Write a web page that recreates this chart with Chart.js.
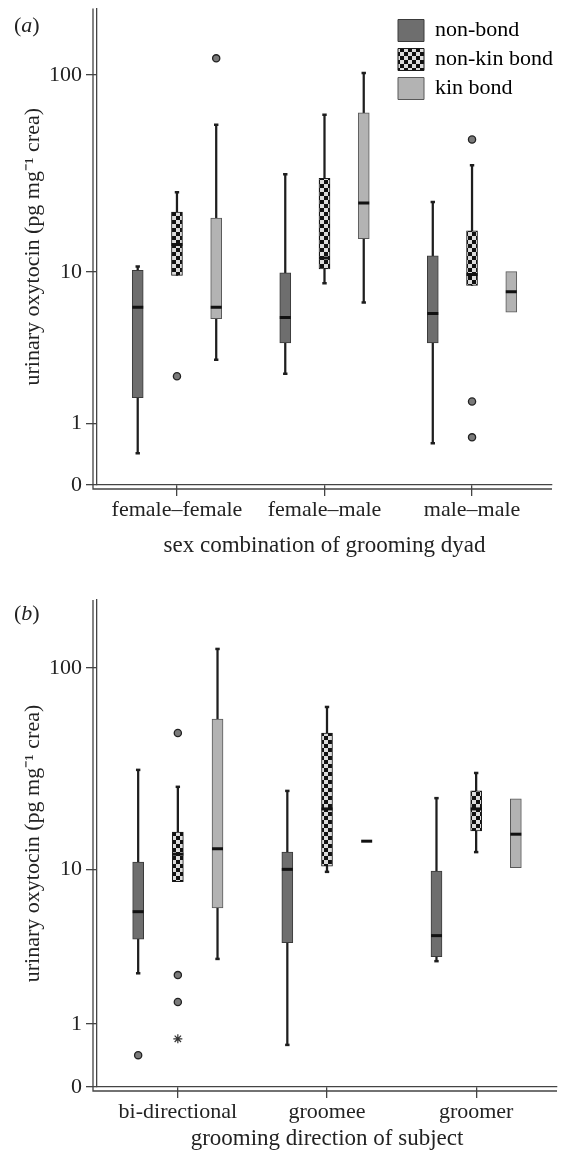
<!DOCTYPE html>
<html>
<head>
<meta charset="utf-8">
<script src="https://cdn.jsdelivr.net/npm/chart.js@4.4.1/dist/chart.umd.min.js"></script>
<style>
  body { margin: 0; background: #fff; }
  .panel { position: absolute; left: 0; width: 569px; }
  .tag { position: absolute; left: 14px; font: 22px "Liberation Serif", "Times New Roman", serif; color: #222; line-height: 1; }
</style>
</head>
<body>
<div class="panel" style="top:0;height:580px"><canvas id="chartA"></canvas><span class="tag" style="top:14px">(<i>a</i>)</span></div>
<div class="panel" style="top:580px;height:578px"><canvas id="chartB"></canvas><span class="tag" style="top:22px">(<i>b</i>)</span></div>
<script>
// categories and tick labels
const catsA = ['female–female', 'female–male', 'male–male'];
const catsB = ['bi-directional', 'groomee', 'groomer'];
const seriesNames = ['non-bond', 'non-kin bond', 'kin bond'];
const yTicks = [0, 1, 10, 100];

// box summaries per category: [lower whisker, q1, median, q3, upper whisker]
const aNonBond = [[0.43, 1.67, 6.4, 10.2, 10.7], [2.5, 3.95, 5.6, 9.9, 32.1], [0.6, 3.95, 5.9, 12.2, 23.2]];
const aNonKin = [[9.6, 9.6, 14, 20.6, 26], [8.7, 10.4, 11.9, 30.6, 63.7], [8.45, 8.45, 9.7, 16.5, 35.6]];
const aKin = [[3.1, 5.5, 6.4, 19.2, 56.8], [6.8, 15.0, 22.9, 65.1, 102.5], [6.0, 6.0, 7.8, 10.06, 10.06]];
// outliers: [category index, value]
const aNonBondOut = [];
const aNonKinOut = [[0, 2.4], [2, 47.9], [2, 1.56], [2, 0.71]];
const aKinOut = [[0, 121]];

const bNonBond = [[2.5, 4.1, 5.9, 10.9, 31.9], [0.59, 3.9, 10.0, 12.3, 25.1], [3.0, 3.2, 4.3, 9.8, 23.1]];
const bNonKin = [[8.6, 8.6, 12, 15.6, 26.3], [9.7, 10.4, 20.4, 48.4, 64.8], [12.3, 15.8, 20.4, 25.1, 30.8]];
const bKin = [[3.1, 6.2, 12.8, 56.6, 123.7], [14, 14, 14, 14, 14], [10.2, 10.2, 15.2, 22.9, 22.9]];
const bNonBondOut = [[0, 0.42]];
const bNonKinOut = [[0, 48.4], [0, 2.43], [0, 1.55]];
const bKinOut = [];
const bExtremes = [[0, 0.70]]; // the asterisk, non-kin bond

// axis is log10(value + 1)
const tf = v => Math.log10(v + 1);
const offsets = [-0.266, 0, 0.266];

function checker() {
  const c = document.createElement('canvas');
  c.width = 8; c.height = 8;
  const g = c.getContext('2d');
  g.fillStyle = '#dcdcdc'; g.fillRect(0, 0, 8, 8);
  g.fillStyle = '#111';
  g.fillRect(0, 0, 4, 4); g.fillRect(4, 4, 4, 4);
  return g.createPattern(c, 'repeat');
}
const seriesFill = ['#6e6e6e', checker(), '#b3b3b3'];
const seriesBorder = ['#3a3a3a', '#1a1a1a', '#595959'];

Chart.defaults.font.family = '"Liberation Serif", "Times New Roman", serif';
Chart.defaults.font.size = 22;
Chart.defaults.color = '#222';

function buildDatasets(summaries, outliers, extremes) {
  const ds = [];
  summaries.forEach((rows, s) => {
    const whisk = [], boxes = [], caps = [], meds = [];
    rows.forEach((r, i) => {
      const x = i + offsets[s];
      const [lo, q1, med, q3, hi] = r;
      if (lo < q1 || hi > q3) whisk.push({x, y: [tf(lo), tf(hi)]});
      if (q3 > q1) boxes.push({x, y: [tf(q1), tf(q3)]});
      if (lo < q1) caps.push({x, y: tf(lo)});
      if (hi > q3) caps.push({x, y: tf(hi)});
      meds.push({x, y: tf(med)});
    });
    ds.push({type: 'bar', data: whisk, grouped: false, barThickness: 1.6,
      backgroundColor: '#1e1e1e', borderWidth: 0, order: 4});
    ds.push({type: 'bar', label: seriesNames[s], data: boxes, grouped: false, barThickness: 11,
      backgroundColor: seriesFill[s], borderColor: seriesBorder[s], borderWidth: 1,
      borderSkipped: false, order: 3});
    ds.push({type: 'scatter', data: caps, pointStyle: 'line', pointRadius: 2.2,
      pointBorderWidth: 2.5, pointBorderColor: '#1e1e1e', order: 2});
    ds.push({type: 'scatter', data: meds, pointStyle: 'line', pointRadius: 5.5,
      pointBorderWidth: 3, pointBorderColor: '#111', order: 1});
  });
  outliers.forEach((list, s) => {
    ds.push({type: 'scatter', data: list.map(([i, v]) => ({x: i + offsets[s], y: tf(v)})),
      pointStyle: 'circle', pointRadius: 3.6, pointBorderWidth: 1.3,
      pointBackgroundColor: '#7a7a7a', pointBorderColor: '#222', order: 0});
  });
  if (extremes) {
    ds.push({type: 'scatter', data: extremes.map(([i, v]) => ({x: i + offsets[1], y: tf(v)})),
      pointStyle: 'star', pointRadius: 4.5, pointBorderWidth: 1.2, pointBorderColor: '#333', order: 0});
  }
  return ds;
}

// second line of the double axis frame, and legend placement
const framePlugin = {
  id: 'frame',
  afterLayout(chart) {
    const lg = chart.legend;
    if (lg && lg.options.display) {
      const w = lg.width, h = lg.height;
      lg.left = chart.chartArea.right - 161;
      lg.top = chart.chartArea.top + 4;
      lg.right = lg.left + w + 20;
      lg.bottom = lg.top + h;
    }
  },
  afterDraw(chart) {
    const {ctx} = chart;
    const {left, right, top, bottom} = chart.chartArea;
    ctx.save();
    ctx.strokeStyle = '#444';
    ctx.lineWidth = 1.3;
    ctx.beginPath();
    ctx.moveTo(left - 4, top);
    ctx.lineTo(left - 4, bottom + 4);
    ctx.lineTo(right, bottom + 4);
    ctx.stroke();
    ctx.restore();
  }
};

function makePanel(id, cats, summaries, outliers, extremes, o) {
  new Chart(document.getElementById(id), {
    type: 'bar',
    data: {datasets: buildDatasets(summaries, outliers, extremes)},
    options: {
      responsive: true,
      maintainAspectRatio: false,
      animation: false,
      layout: {padding: {top: o.top, right: o.right, left: 0, bottom: 0}},
      plugins: {
        tooltip: {enabled: false},
        legend: {
          display: o.legend,
          position: 'chartArea',
          align: 'start',
          onClick: null,
          labels: {
            boxWidth: 26, boxHeight: 22, padding: 7, color: '#222',
            font: {size: 22},
            generateLabels: () => seriesNames.map((n, s) => ({
              text: n, fillStyle: seriesFill[s], strokeStyle: seriesBorder[s],
              lineWidth: 1, hidden: false, datasetIndex: s * 4 + 1
            }))
          }
        }
      },
      scales: {
        x: {
          type: 'linear', min: -0.542, max: 2.542, offset: false,
          grid: {display: true, offset: false, drawOnChartArea: false, drawTicks: true,
            tickLength: 11, color: '#444', lineWidth: 1.3},
          border: {display: true, color: '#444', width: 1.3},
          afterBuildTicks: sc => { sc.ticks = cats.map((c, i) => ({value: i})); },
          afterFit: sc => { sc.height = o.xh; sc.paddingLeft = 0; sc.paddingRight = 0; },
          ticks: {autoSkip: false, maxRotation: 0, padding: 1, color: '#222',
            callback: (v, i) => cats[i]},
          title: {display: true, text: o.xTitle, color: '#222', font: {size: 23},
            padding: {top: 0, bottom: o.xtb}}
        },
        y: {
          type: 'linear', min: 0, max: 2.33,
          grid: {display: true, drawOnChartArea: false, drawTicks: true,
            tickLength: 11, color: '#444', lineWidth: 1.3},
          border: {display: true, color: '#444', width: 1.3},
          afterBuildTicks: sc => { sc.ticks = yTicks.map(v => ({value: tf(v)})); },
          afterFit: sc => { sc.width = 97; sc.paddingTop = 0; sc.paddingBottom = 0; },
          ticks: {autoSkip: false, padding: 4, color: '#222',
            callback: (v, i) => String(yTicks[i])},
          title: {display: true, text: 'urinary oxytocin (pg mg⁻¹ crea)', color: '#222',
            font: {size: 22}, padding: {top: 20, bottom: 0}}
        }
      }
    },
    plugins: [framePlugin]
  });
}

makePanel('chartA', catsA, [aNonBond, aNonKin, aKin], [aNonBondOut, aNonKinOut, aKinOut], null,
  {top: 7, right: 17, xh: 95, xtb: 20, legend: true, xTitle: 'sex combination of grooming dyad'});
makePanel('chartB', catsB, [bNonBond, bNonKin, bKin], [bNonBondOut, bNonKinOut, bKinOut], bExtremes,
  {top: 20, right: 12, xh: 71, xtb: 5, legend: false, xTitle: 'grooming direction of subject'});
</script>
</body>
</html>
